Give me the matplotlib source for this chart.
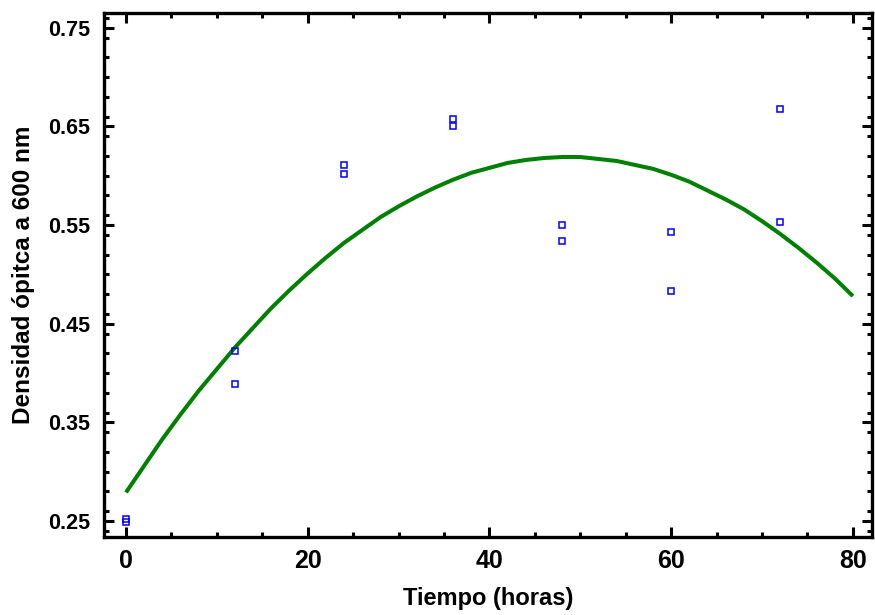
import matplotlib
matplotlib.use("Agg")
import matplotlib.pyplot as plt
from matplotlib.ticker import MultipleLocator

# Observed data (time in hours, optical density)
obs_time = [0, 0, 12, 12, 24, 24, 36, 36, 48, 48, 60, 60, 72, 72]
obs_od = [0.252, 0.249, 0.422, 0.389, 0.611, 0.602, 0.658, 0.650,
          0.550, 0.534, 0.543, 0.483, 0.668, 0.553]

# Fitted curve values (every 2 hours)
fit_time = [0, 2, 4, 6, 8, 10, 12, 14, 16, 18, 20, 22, 24, 26, 28, 30, 32, 34, 36, 38, 40,
            42, 44, 46, 48, 50, 52, 54, 56, 58, 60, 62, 64, 66, 68, 70, 72, 74, 76, 78, 80]
fit_od = [0.279, 0.306, 0.333, 0.358, 0.382, 0.404, 0.426, 0.446, 0.466, 0.484, 0.501,
          0.517, 0.532, 0.545, 0.558, 0.569, 0.579, 0.588, 0.596, 0.603, 0.608,
          0.613, 0.616, 0.618, 0.619, 0.619, 0.617, 0.615, 0.611, 0.607, 0.601,
          0.594, 0.585, 0.576, 0.566, 0.554, 0.541, 0.527, 0.512, 0.496, 0.478]

x_ticks = [0, 20, 40, 60, 80]
y_ticks = [0.25, 0.35, 0.45, 0.55, 0.65, 0.75]
y_tick_labels = ["0.25", "0.35", "0.45", "0.55", "0.65", "0.75"]

narrow = ["Liberation Sans Narrow", "Liberation Sans", "DejaVu Sans"]
wide = ["Liberation Sans", "DejaVu Sans"]

fig = plt.figure(figsize=(8.75, 6.15), dpi=100)
ax = fig.add_axes([104/875, 1-537/615, (872-104)/875, (537-13)/615])

ax.plot(fit_time, fit_od, color="#008000", lw=2.9, solid_capstyle="butt",
        solid_joinstyle="round", zorder=2)
ax.plot(obs_time, obs_od, linestyle="none", marker="s", markersize=4.5,
        markerfacecolor="none", markeredgecolor="#0000ff", markeredgewidth=1.1, zorder=3)

ax.set_xlim(-2.42, 82.1)
ax.set_ylim(0.2338, 0.765)

ax.set_xticks(x_ticks)
ax.set_xticklabels([str(t) for t in x_ticks])
ax.set_yticks(y_ticks)
ax.set_yticklabels(y_tick_labels)
ax.xaxis.set_minor_locator(MultipleLocator(5))
ax.yaxis.set_minor_locator(MultipleLocator(0.02))

ax.tick_params(which="both", direction="in", top=True, right=True, width=2.2, color="black")
ax.tick_params(which="major", length=7.5)
ax.tick_params(axis="x", which="major", pad=9)
ax.tick_params(axis="y", which="major", pad=10)
ax.tick_params(which="minor", length=3.6)
for s in ax.spines.values():
    s.set_linewidth(2.4)

for lab in ax.get_xticklabels():
    lab.set_fontfamily(narrow)
    lab.set_fontweight("bold")
    lab.set_fontsize(18)
for lab in ax.get_yticklabels():
    lab.set_fontfamily(narrow)
    lab.set_fontweight("bold")
    lab.set_fontsize(15.5)

ax.set_xlabel("Tiempo (horas)", family=narrow, fontweight="bold", fontsize=17, labelpad=10)
ax.set_ylabel("Densidad ópitca a 600 nm", family=wide, fontweight="bold", fontsize=17.5, labelpad=9)

fig.savefig("out.png", dpi=100)
